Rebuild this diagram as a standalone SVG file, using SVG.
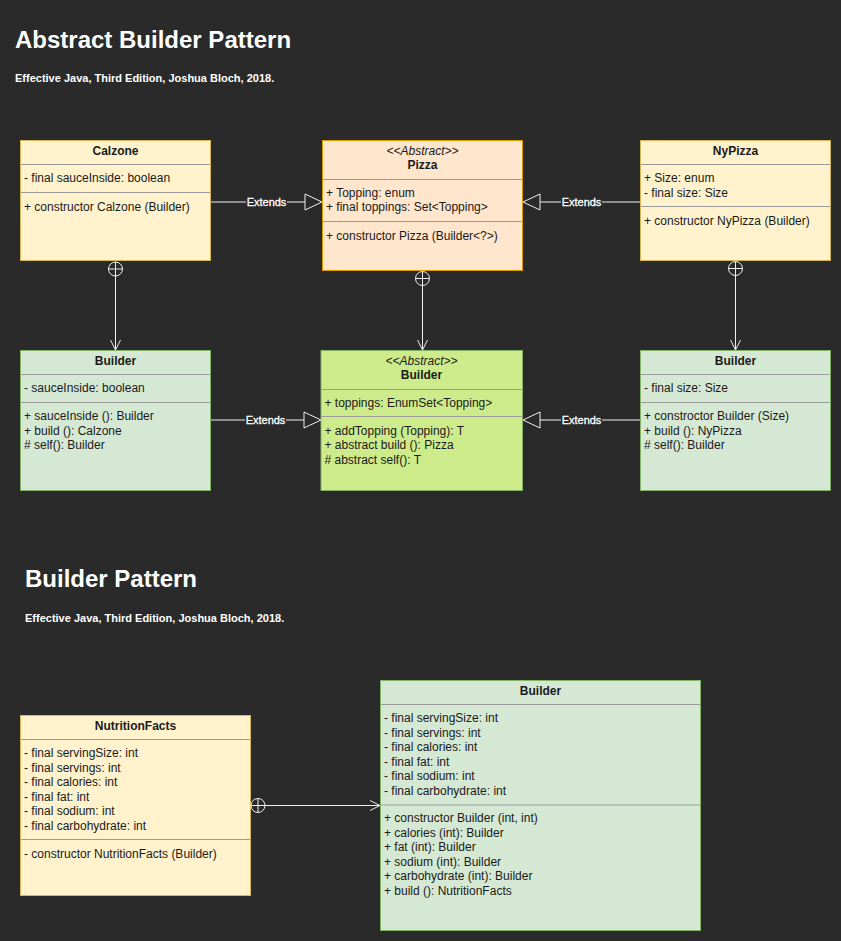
<svg xmlns="http://www.w3.org/2000/svg" width="841" height="941" viewBox="0 0 841 941">
<defs>
<style>
text{font-family:"Liberation Sans",Arial,Helvetica,sans-serif;}
.h1{font-size:24px;font-weight:bold;fill:#ffffff;}
.sub{font-size:11px;font-weight:bold;fill:#ffffff;}
.t{font-size:12px;fill:#1a1a1a;}
.b{font-size:12px;font-weight:bold;fill:#1a1a1a;text-anchor:middle;}
.st{font-size:12px;font-style:italic;fill:#1a1a1a;text-anchor:middle;}
.yel{fill:#fff2cc;stroke:#d6b656;}
.org{fill:#ffe6cc;stroke:#d79b00;}
.grn{fill:#d5e8d4;stroke:#82b366;}
.lim{fill:#cdeb8b;stroke:#82b366;}
.div{stroke:#9a9a9a;stroke-width:1;}
.ln{stroke:#f0f0f0;stroke-width:1;fill:none;}
.tri{stroke:#f0f0f0;stroke-width:1;fill:#2a2a2a;}
.lbl{font-size:11px;fill:#ffffff;stroke:#ffffff;stroke-width:0.3;text-anchor:middle;}
.lb{fill:#2a2a2a;}
</style>
</defs>
<rect x="0" y="0" width="841" height="941" fill="#2a2a2a"/>

<g id="titles">
<text class="h1" x="15" y="48">Abstract Builder Pattern</text>
<text class="sub" x="15" y="82">Effective Java, Third Edition, Joshua Bloch, 2018.</text>
<text class="h1" x="25" y="587">Builder Pattern</text>
<text class="sub" x="25" y="622">Effective Java, Third Edition, Joshua Bloch, 2018.</text>
</g>

<g id="calzone">
<rect class="yel" x="20.5" y="140.5" width="190" height="120"/>
<text class="b" x="115.5" y="155">Calzone</text>
<line class="div" x1="21" y1="164.5" x2="210" y2="164.5"/>
<text class="t" x="24" y="182">- final sauceInside: boolean</text>
<line class="div" x1="21" y1="192.5" x2="210" y2="192.5"/>
<text class="t" x="24" y="210.5">+ constructor Calzone (Builder)</text>
</g>

<g id="pizza">
<rect class="org" x="322.5" y="140.5" width="200" height="130"/>
<text class="st" x="422.5" y="155">&lt;&lt;Abstract&gt;&gt;</text>
<text class="b" x="422.5" y="169">Pizza</text>
<line class="div" x1="323" y1="179.5" x2="522" y2="179.5"/>
<text class="t" x="326" y="197">+ Topping: enum</text>
<text class="t" x="326" y="211">+ final toppings: Set&lt;Topping&gt;</text>
<line class="div" x1="323" y1="221.5" x2="522" y2="221.5"/>
<text class="t" x="326" y="239.5">+ constructor Pizza (Builder&lt;?&gt;)</text>
</g>

<g id="nypizza">
<rect class="yel" x="640.5" y="140.5" width="190" height="120"/>
<text class="b" x="735.5" y="155">NyPizza</text>
<line class="div" x1="641" y1="164.5" x2="830" y2="164.5"/>
<text class="t" x="644" y="182">+ Size: enum</text>
<text class="t" x="644" y="197">- final size: Size</text>
<line class="div" x1="641" y1="206.5" x2="830" y2="206.5"/>
<text class="t" x="644" y="224.5">+ constructor NyPizza (Builder)</text>
</g>

<g id="calzone-builder">
<rect class="grn" x="20.5" y="350.5" width="190" height="140"/>
<text class="b" x="115.5" y="365">Builder</text>
<line class="div" x1="21" y1="374.5" x2="210" y2="374.5"/>
<text class="t" x="24" y="392">- sauceInside: boolean</text>
<line class="div" x1="21" y1="402.5" x2="210" y2="402.5"/>
<text class="t" x="24" y="420">+ sauceInside (): Builder</text>
<text class="t" x="24" y="434.5">+ build (): Calzone</text>
<text class="t" x="24" y="449"># self(): Builder</text>
</g>

<g id="abstract-builder">
<rect class="lim" x="321" y="350.5" width="201.5" height="140"/>
<text class="st" x="421.5" y="365">&lt;&lt;Abstract&gt;&gt;</text>
<text class="b" x="421.5" y="379">Builder</text>
<line class="div" x1="321.5" y1="389.5" x2="522" y2="389.5"/>
<text class="t" x="324.5" y="406.5">+ toppings: EnumSet&lt;Topping&gt;</text>
<line class="div" x1="321.5" y1="416.5" x2="522" y2="416.5"/>
<text class="t" x="324.5" y="434.5">+ addTopping (Topping): T</text>
<text class="t" x="324.5" y="449">+ abstract build (): Pizza</text>
<text class="t" x="324.5" y="463.5"># abstract self(): T</text>
</g>

<g id="nypizza-builder">
<rect class="grn" x="640.5" y="350.5" width="190" height="140"/>
<text class="b" x="735.5" y="365">Builder</text>
<line class="div" x1="641" y1="374.5" x2="830" y2="374.5"/>
<text class="t" x="644" y="392">- final size: Size</text>
<line class="div" x1="641" y1="402.5" x2="830" y2="402.5"/>
<text class="t" x="644" y="420">+ constroctor Builder (Size)</text>
<text class="t" x="644" y="434.5">+ build (): NyPizza</text>
<text class="t" x="644" y="449"># self(): Builder</text>
</g>

<g id="nutritionfacts">
<rect class="yel" x="20.5" y="715.5" width="230" height="180"/>
<text class="b" x="135.5" y="730">NutritionFacts</text>
<line class="div" x1="21" y1="739.5" x2="250" y2="739.5"/>
<text class="t" x="24" y="757">- final servingSize: int</text>
<text class="t" x="24" y="771.5">- final servings: int</text>
<text class="t" x="24" y="786">- final calories: int</text>
<text class="t" x="24" y="800.5">- final fat: int</text>
<text class="t" x="24" y="815">- final sodium: int</text>
<text class="t" x="24" y="829.5">- final carbohydrate: int</text>
<line class="div" x1="21" y1="839.5" x2="250" y2="839.5"/>
<text class="t" x="24" y="857.5">- constructor NutritionFacts (Builder)</text>
</g>

<g id="nutrition-builder">
<rect class="grn" x="380.5" y="680.5" width="320" height="250"/>
<text class="b" x="540.5" y="695">Builder</text>
<line class="div" x1="381" y1="704.5" x2="700" y2="704.5"/>
<text class="t" x="384" y="722">- final servingSize: int</text>
<text class="t" x="384" y="736.5">- final servings: int</text>
<text class="t" x="384" y="751">- final calories: int</text>
<text class="t" x="384" y="765.5">- final fat: int</text>
<text class="t" x="384" y="780">- final sodium: int</text>
<text class="t" x="384" y="794.5">- final carbohydrate: int</text>
<line class="div" x1="381" y1="805" x2="700" y2="805"/>
<text class="t" x="384" y="822">+ constructor Builder (int, int)</text>
<text class="t" x="384" y="836.5">+ calories (int): Builder</text>
<text class="t" x="384" y="851">+ fat (int): Builder</text>
<text class="t" x="384" y="865.5">+ sodium (int): Builder</text>
<text class="t" x="384" y="880">+ carbohydrate (int): Builder</text>
<text class="t" x="384" y="894.5">+ build (): NutritionFacts</text>
</g>

<g id="connectors">
<!-- Calzone extends Pizza -->
<line class="ln" x1="211" y1="202" x2="305" y2="202"/>
<polygon class="tri" points="305,194 322,202 305,210"/>
<rect class="lb" x="246" y="196" width="41" height="12"/>
<text class="lbl" x="266.5" y="206">Extends</text>
<!-- NyPizza extends Pizza -->
<line class="ln" x1="540" y1="202" x2="640" y2="202"/>
<polygon class="tri" points="540,194 523,202 540,210"/>
<rect class="lb" x="561" y="196" width="41" height="12"/>
<text class="lbl" x="581.5" y="206">Extends</text>
<!-- Calzone Builder extends Builder -->
<line class="ln" x1="211" y1="420" x2="304" y2="420"/>
<polygon class="tri" points="304,412 321,420 304,428"/>
<rect class="lb" x="245" y="414" width="41" height="12"/>
<text class="lbl" x="265.5" y="424">Extends</text>
<!-- NyPizza Builder extends Builder -->
<line class="ln" x1="540" y1="420" x2="640" y2="420"/>
<polygon class="tri" points="540,412 523,420 540,428"/>
<rect class="lb" x="561" y="414" width="41" height="12"/>
<text class="lbl" x="581.5" y="424">Extends</text>

<!-- nesting: Calzone -> Builder -->
<circle class="ln" cx="115.5" cy="269" r="7"/>
<line class="ln" x1="108.5" y1="269" x2="122.5" y2="269"/>
<line class="ln" x1="115.5" y1="262" x2="115.5" y2="350"/>
<polyline class="ln" points="110.5,340 115.5,350 120.5,340"/>
<!-- nesting: Pizza -> Builder -->
<circle class="ln" cx="422.5" cy="278.5" r="7"/>
<line class="ln" x1="415.5" y1="278.5" x2="429.5" y2="278.5"/>
<line class="ln" x1="422.5" y1="271.5" x2="422.5" y2="350"/>
<polyline class="ln" points="417.5,340 422.5,350 427.5,340"/>
<!-- nesting: NyPizza -> Builder -->
<circle class="ln" cx="735.5" cy="268.5" r="7"/>
<line class="ln" x1="728.5" y1="268.5" x2="742.5" y2="268.5"/>
<line class="ln" x1="735.5" y1="261.5" x2="735.5" y2="350"/>
<polyline class="ln" points="730.5,340 735.5,350 740.5,340"/>
<!-- nesting: NutritionFacts -> Builder -->
<circle class="ln" cx="258" cy="805.5" r="7"/>
<line class="ln" x1="258" y1="798.5" x2="258" y2="812.5"/>
<line class="ln" x1="251" y1="805.5" x2="380" y2="805.5"/>
<polyline class="ln" points="370,800.5 380,805.5 370,810.5"/>
</g>
</svg>
